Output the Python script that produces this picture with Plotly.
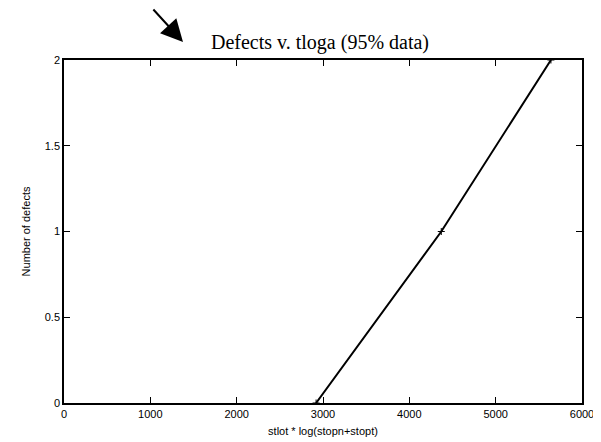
import plotly.graph_objects as go

x_vals = [2920, 4370, 5640]
y_vals = [0, 1, 2]
x_ticks = [0, 1000, 2000, 3000, 4000, 5000, 6000]
y_ticks = [0, 0.5, 1, 1.5, 2]
y_tick_text = ["0", "0.5", "1", "1.5", "2"]

# The page body has an 8px default margin, so the figure is sized/offset to compensate.
FIG_W, FIG_H = 593, 434
M_L, M_R, M_T, M_B = 56, 19, 52, 39

fig = go.Figure()
fig.add_trace(go.Scatter(x=x_vals, y=y_vals, mode="lines+markers",
                         line=dict(color="black", width=2),
                         marker=dict(symbol="cross-thin", size=5, line=dict(color="black", width=1)),
                         showlegend=False))

sans = "Liberation Sans, Arial, sans-serif"
axis_common = dict(showgrid=False, zeroline=False, showline=True, linecolor="black", linewidth=1.5,
                   mirror="ticks", ticks="inside", ticklen=6, tickcolor="black", automargin=False,
                   tickfont=dict(family=sans, size=11, color="black"))

fig.update_layout(
    width=FIG_W, height=FIG_H,
    margin=dict(l=M_L, r=M_R, t=M_T, b=M_B, autoexpand=False),
    paper_bgcolor="white", plot_bgcolor="white",
    title=dict(text="Defects v. tloga (95% data)", x=312 / FIG_W, xanchor="center",
               y=1 - 34 / FIG_H, yanchor="middle",
               font=dict(family="Liberation Serif, Times New Roman, serif", size=20, color="black")),
    xaxis=dict(range=[0, 6000], tickvals=x_ticks, **axis_common,
               title=dict(text="stlot * log(stopn+stopt)", standoff=8,
                          font=dict(family=sans, size=11, color="black"))),
    yaxis=dict(range=[0, 2], tickvals=y_ticks, ticktext=y_tick_text, **axis_common,
               title=dict(text="Number of defects", standoff=12,
                          font=dict(family=sans, size=11, color="black"))),
)

plot_w = FIG_W - M_L - M_R
plot_h = FIG_H - M_T - M_B
fig.add_annotation(
    x=(175 - M_L) / plot_w, y=(FIG_H - M_B - 34) / plot_h, xref="paper", yref="paper", text="",
    showarrow=True, arrowhead=2, arrowsize=2.2, arrowwidth=2, arrowcolor="black",
    ax=-31, ay=-34, axref="pixel", ayref="pixel",
)

fig.write_html("out.html")
